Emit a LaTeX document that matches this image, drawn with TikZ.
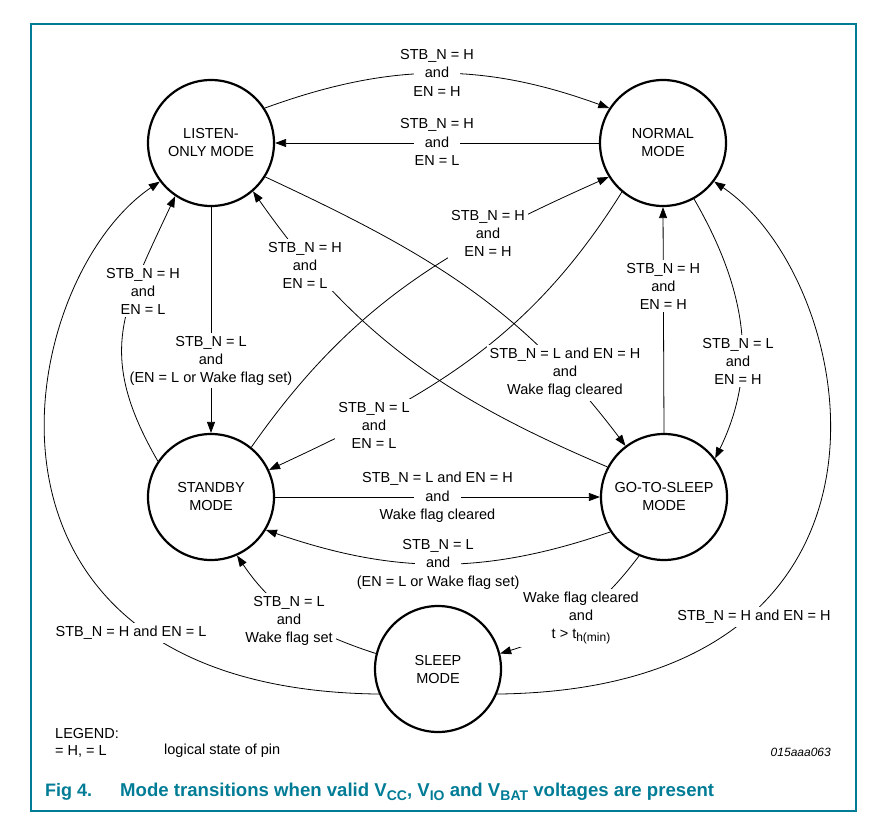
\documentclass[tikz,border=0pt]{standalone}
\usepackage{fontspec}
\setmainfont{Liberation Sans}
\usetikzlibrary{arrows.meta,positioning}
\definecolor{figteal}{RGB}{0,124,150}
\newcommand{\capsub}[1]{\raisebox{-3.5pt}{\fontsize{14}{14}\selectfont #1}}

\begin{document}
\begin{tikzpicture}[x=1pt,y=1pt,
        font=\fontsize{14.5}{18}\selectfont,
        >={Triangle[length=11pt,width=8pt]},
        mode/.style={circle, draw, line width=2.2pt, minimum size=126pt, inner sep=0pt, align=center},
        trans/.style={->, line width=0.8pt},
        cond/.style={fill=white, align=center, inner sep=3pt},
        andbox/.style={fill=white, inner xsep=11pt, inner ysep=1.5pt, text height=10.5pt, text depth=2.5pt},
        condline/.style={inner sep=1.5pt, text height=10.5pt, text depth=2.5pt},
        legendtext/.style={anchor=west, inner xsep=0pt}]

        \useasboundingbox (0,0) rectangle (877,-824);
        \draw[figteal, line width=1.2pt] (31,-24) rectangle (856,-811);

        % modes
        \node[mode] (listen) at (211,-143) {LISTEN-\\ONLY MODE};
        \node[mode] (normal) at (663,-143) {NORMAL\\MODE};
        \node[mode] (standby) at (211,-497) {STANDBY\\MODE};
        \node[mode] (gts) at (664,-497) {GO-TO-SLEEP\\MODE};
        \node[mode] (sleep) at (438,-669) {SLEEP\\MODE};

        % transitions with the "and" on the line
        \draw[trans] (listen.33) to[out=20,in=160] node[andbox] (a1) {and} (normal.147);
        \node[condline, above=2pt of a1] (a1t) {STB\_N = H};
        \node[condline, below=2pt of a1] (a1b) {EN = H};

        \draw[trans] (normal.west) -- node[andbox] (a2) {and} (listen.east);
        \node[condline, above=2pt of a2] (a2t) {STB\_N = H};
        \node[condline, below=2pt of a2] (a2b) {EN = L};

        \draw[trans] (standby.east) -- node[andbox] (a15) {and} (gts.west);
        \node[condline, above=2pt of a15] (a15t) {STB\_N = L and EN = H};
        \node[condline, below=2pt of a15] (a15b) {Wake flag cleared};

        \draw[trans] (gts.213) to[out=199,in=-19] node[andbox] (a16) {and} (standby.-31);
        \node[condline, above=2pt of a16] (a16t) {STB\_N = L};
        \node[condline, below=2pt of a16] (a16b) {(EN = L or Wake flag set)};

        % straight transitions
        \draw[trans] (listen.south) -- node[cond, pos=0.68] (c3) {STB\_N = L\\and\\(EN = L or Wake flag set)} (standby.north);
        \draw[trans] (gts.north) -- node[cond, pos=0.65] (c9) {STB\_N = H\\and\\EN = H} (normal.south);

        % curved transitions
        \draw[trans] (standby.146) to[out=120,in=245,looseness=1.2] (listen.236);
        \draw[trans] (listen.-32) to[out=-25,in=127] (gts.127);
        \draw[trans] (gts.152) to[out=157,in=-55] (listen.-49);
        \draw[trans] (normal.230) to[out=238,in=25] (standby.25);
        \draw[trans] (standby.51) to[out=55,in=204] (normal.212);
        \draw[trans] (normal.-61) to[out=-60,in=64] (gts.37);
        \draw[trans] (sleep.-23) .. controls +(440,5) and +(147,-100) .. (normal.-37);
        \draw[trans] (sleep.203) .. controls +(-440,5) and +(-147,-100) .. (listen.217);
        \draw[trans] (sleep.166) to[out=162,in=-56] (standby.-66);
        \draw[trans] (gts.247) to[out=233,in=17] (sleep.14);

        % conditions
        \node[cond] (c4) at (143,-291) {STB\_N = H\\and\\EN = L};
        \node[cond] (c5) at (565,-373) {STB\_N = L and EN = H\\and\\Wake flag cleared};
        \node[cond] (c6) at (305,-265) {STB\_N = H\\and\\EN = L};
        \node[cond] (c7) at (374,-425) {STB\_N = L\\and\\EN = L};
        \node[cond] (c8) at (488,-233) {STB\_N = H\\and\\EN = H};
        \node[cond] (c10) at (738,-361) {STB\_N = L\\and\\EN = H};
        \node[cond] (c11) at (754,-617) {STB\_N = H and EN = H};
        \node[cond] (c12) at (131,-633) {STB\_N = H and EN = L};
        \node[cond] (c13) at (289,-621) {STB\_N = L\\and\\Wake flag set};
        \node[cond] (c14) at (581,-618) {Wake flag cleared\\and\\t > t\raisebox{-3pt}{\fontsize{12}{13}\selectfont h(min)}};

        % legend
        \node[legendtext] (legend) at (55,-733) {LEGEND:};
        \node[legendtext] (legkey) at (55,-751) {= H, = L};
        \node[legendtext] (legmean) at (164,-751) {logical state of pin};
        \node[anchor=east, inner xsep=0pt, font=\fontsize{12}{14}\selectfont\itshape] (figid) at (831,-752) {015aaa063};

        % caption
        \node[legendtext, figteal, font=\fontsize{18}{22}\selectfont\bfseries] (fignum) at (45,-792) {Fig 4.};
        \node[legendtext, figteal, font=\fontsize{18.6}{22}\selectfont\bfseries] (figtitle) at (120,-792) {Mode transitions when valid V\capsub{CC}, V\capsub{IO} and V\capsub{BAT} voltages are present};
    \end{tikzpicture}
\end{document}
